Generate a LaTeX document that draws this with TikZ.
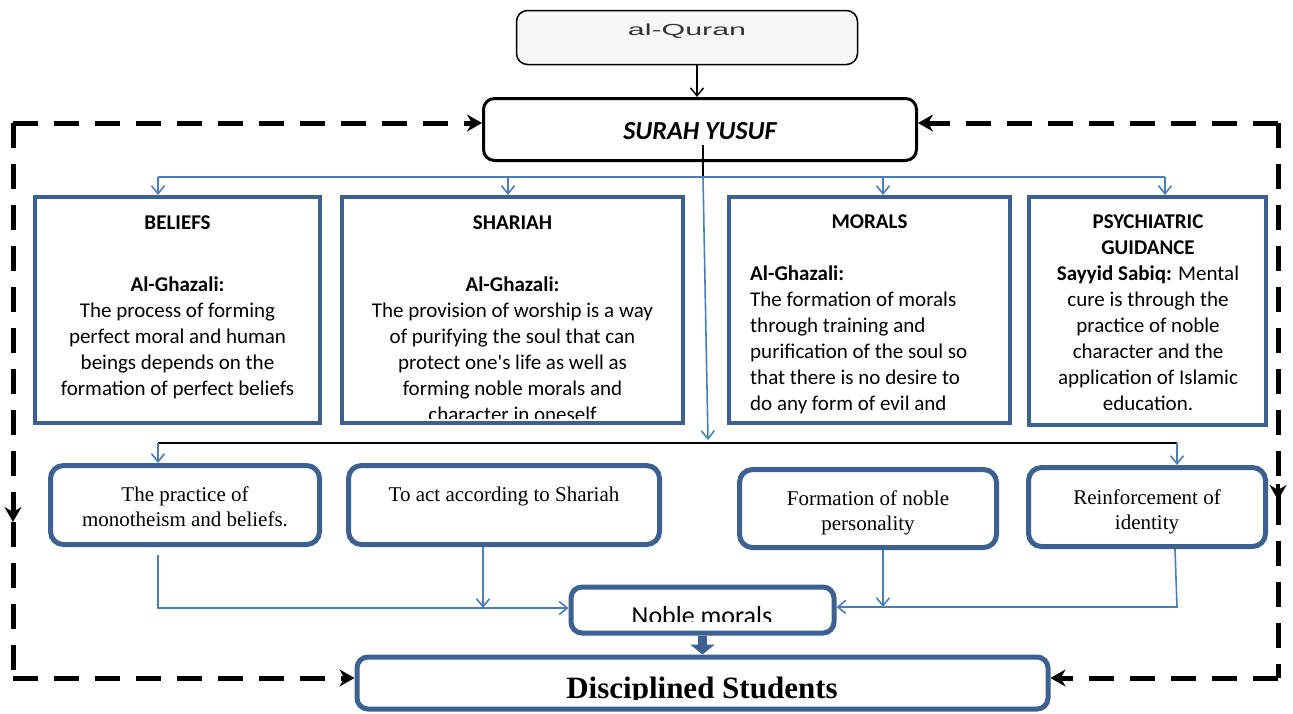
\documentclass[tikz,border=0pt]{standalone}
\usepackage{graphicx}
\usepackage{fontspec}
\setmainfont{Liberation Serif}
\newfontfamily\calib{Carlito}
\newfontfamily\arialf{Liberation Sans}
\usetikzlibrary{arrows.meta}
\definecolor{boxblue}{HTML}{3C6190}
\definecolor{linkblue}{HTML}{4A7EBB}
\begin{document}
\begin{tikzpicture}[x=1pt,y=-1pt,
  sqbox/.style={draw=boxblue,line width=4pt,fill=white,inner sep=0pt},
  rbox/.style={draw=boxblue,line width=5pt,fill=white,rounded corners=13pt,inner sep=0pt},
  bodytxt/.style={font=\calib\fontsize{21}{26}\selectfont,align=center,inner sep=0pt},
  titletxt/.style={font=\calib\bfseries\fontsize{21}{26}\selectfont,align=center,inner sep=0pt},
  sertxt/.style={font=\fontsize{21}{25}\selectfont,align=center,inner sep=0pt},
  blueline/.style={draw=linkblue,line width=1.6pt},
  bluetip/.style={-{Straight Barb[length=8pt,width=13pt,line width=1.6pt]}},
  dashline/.style={draw=black,line width=5pt,dash pattern=on 25pt off 16pt},
  blacktip/.style={-{Stealth[length=15pt,width=17pt]}}
]
\useasboundingbox (0,0) rectangle (1293,713);
\fill[white] (0,0) rectangle (1293,713);

% top boxes
\node[draw=black,line width=1.5pt,fill=black!3,rounded corners=11pt,minimum width=341pt,minimum height=54pt,inner sep=0pt] (q) at (687,37.5) {};
\node[text=black!80,inner sep=0pt,anchor=base] (qt) at (687,35) {\arialf\fontsize{16}{18}\selectfont\scalebox{1.9}[1]{al-Quran}};
\node[draw=black,line width=3pt,fill=white,rounded corners=11pt,minimum width=433pt,minimum height=62pt,inner sep=0pt] (s) at (700,129.5) {};
\node[inner sep=0pt,anchor=base] (st) at (700,139) {\calib\bfseries\itshape\fontsize{26}{30}\selectfont SURAH YUSUF};
\draw[black,line width=1.5pt,-{Straight Barb[length=8pt,width=13pt,line width=1.5pt]}] (q.south -| 697,0) -- (s.north -| 697,0);

% dashed feedback border
\coordinate (tl) at (13,123);
\coordinate (bl) at (13,678);
\coordinate (tr) at (1278,123);
\coordinate (br) at (1278,678);
\coordinate (lm) at (13,522);
\coordinate (rm) at (1278,500);
\draw[dashline] (tl) -- (lm);
\draw[black,line width=4pt,blacktip] (13,505) -- (lm);
\draw[dashline] (lm) -- (bl);
\draw[dashline,blacktip] (tl) -- (s.west |- tl);
\draw[dashline,blacktip] (tr) -- (s.east |- tr);
\draw[dashline] (tr) -- (rm);
\draw[black,line width=4pt,blacktip] (1278,484) -- (rm);
\draw[dashline] (rm) -- (br);

% first row boxes
\node[sqbox,minimum width=285pt,minimum height=226pt] (b1) at (177.5,310) {};
\node[sqbox,minimum width=341pt,minimum height=226pt] (b2) at (512.5,310) {};
\node[sqbox,minimum width=281pt,minimum height=226pt] (b3) at (869.5,310) {};
\node[sqbox,minimum width=237pt,minimum height=228pt] (b4) at (1147.5,311) {};

\node[titletxt,anchor=base] (b1t) at (177.5,229) {BELIEFS};
\node[bodytxt,anchor=base] (b1x) at (177.5,395) {{\bfseries Al-Ghazali:}\\The process of forming\\perfect moral and human\\beings depends on the\\formation of perfect beliefs};

\node[titletxt,anchor=base] (b2t) at (512.5,229) {SHARIAH};
\begin{scope}
\clip (342,199) rectangle (683,418);
\node[bodytxt,anchor=base] (b2x) at (512.5,421) {{\bfseries Al-Ghazali:}\\The provision of worship is a way\\of purifying the soul that can\\protect one's life as well as\\forming noble morals and\\character in oneself};
\end{scope}

\node[titletxt,anchor=base] (b3t) at (869.5,228) {MORALS};
\begin{scope}
\clip (729,199) rectangle (1010,419);
\node[bodytxt,align=left,anchor=base west] (b3x) at (750,410) {{\bfseries Al-Ghazali:}\\The formation of morals\\through training and\\purification of the soul so\\that there is no desire to\\do any form of evil and};
\end{scope}

\node[bodytxt,anchor=base] (b4x) at (1148,410) {{\bfseries PSYCHIATRIC}\\{\bfseries GUIDANCE}\\{\bfseries Sayyid Sabiq:} Mental\\cure is through the\\practice of noble\\character and the\\application of Islamic\\education.};

% blue distribution from SURAH
\coordinate (sj) at (703,177);
\draw[black,line width=1.5pt] (703,145) -- (sj);
\draw[blueline] (158,177) -- (1165,177);
\draw[blueline,bluetip] (158,177) -- (b1.north -| 158,0);
\draw[blueline,bluetip] (508,177) -- (b2.north -| 508,0);
\draw[blueline,bluetip] (883,177) -- (b3.north -| 883,0);
\draw[blueline,bluetip] (1165,177) -- (b4.north -| 1165,0);

% second row boxes
\node[rbox,minimum width=269pt,minimum height=79pt] (c1) at (185,505) {};
\node[rbox,minimum width=311pt,minimum height=79pt] (c2) at (504,505) {};
\node[rbox,minimum width=257pt,minimum height=78pt] (c3) at (868,508.5) {};
\node[rbox,minimum width=237pt,minimum height=79pt] (c4) at (1147,507) {};

\node[sertxt,anchor=base] (c1t) at (185,526) {The practice of\\monotheism and beliefs.};
\node[sertxt,anchor=base] (c2t) at (504,501) {To act according to Shariah};
\node[sertxt,anchor=base] (c3t) at (868,530) {Formation of noble\\personality};
\node[sertxt,anchor=base] (c4t) at (1147,529) {Reinforcement of\\identity};

\draw[blueline,bluetip] (sj) -- (708,440);
\draw[black,line width=2pt] (158,443) -- (1177,443);
\draw[blueline,bluetip] (158,443) -- (c1.north -| 158,0);
\draw[blueline,bluetip] (1177,443) -- (c4.north -| 1177,0);

% noble morals and disciplined students
\node[rbox,minimum width=263pt,minimum height=46pt,rounded corners=11pt] (nm) at (702.5,610) {};
\begin{scope}
\clip (572,588) rectangle (833,621);
\node[inner sep=0pt,anchor=base] (nmt) at (702,624) {\calib\fontsize{26}{30}\selectfont Noble morals};
\end{scope}
\node[rbox,minimum width=691pt,minimum height=52pt,rounded corners=11pt] (ds) at (702.5,683) {};
\begin{scope}
\clip (360,660) rectangle (1045,699);
\node[inner sep=0pt,anchor=base] (dst) at (702,698) {\bfseries\fontsize{31}{34}\selectfont Disciplined Students};
\end{scope}
\draw[boxblue,line width=9pt,-{Triangle[length=10pt,width=24pt]}] (nm.south) -- (ds.north);

\draw[dashline,blacktip] (bl) -- (ds.west |- bl);
\draw[dashline,blacktip] (br) -- (ds.east |- br);

% links into noble morals
\draw[blueline,bluetip] (158,555) -- (158,608) -- (nm.west |- 0,608);
\draw[blueline,bluetip] (c2.south -| 483,0) -- (483,608);
\draw[blueline,bluetip] (c3.south -| 883,0) -- (883,607);
\draw[blueline,bluetip] (1175,549) -- (1177,607) -- (nm.east |- 0,607);
\end{tikzpicture}
\end{document}
